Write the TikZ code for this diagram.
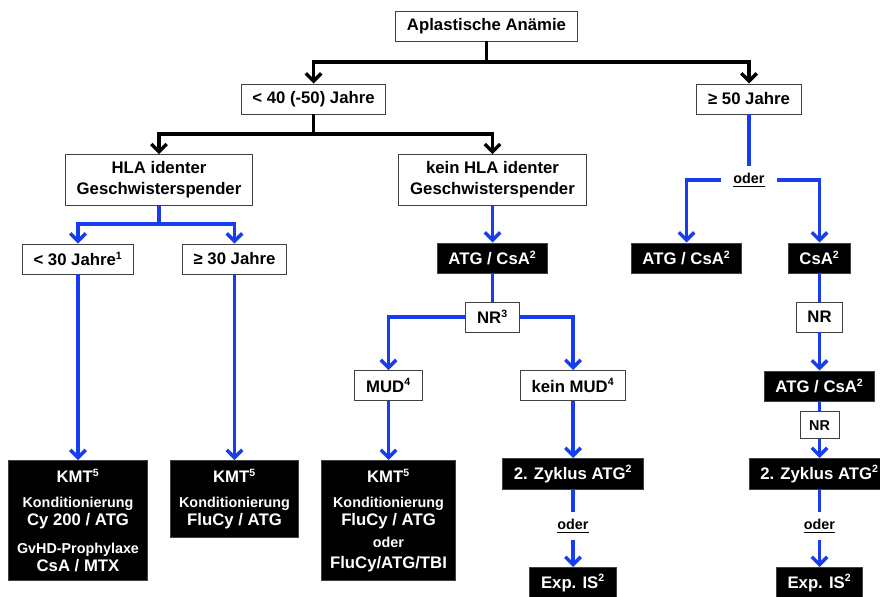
\documentclass[tikz,border=0pt]{standalone}
\usepackage{fontspec}
\setmainfont{Liberation Sans}
\usetikzlibrary{arrows.meta}
\definecolor{flowblue}{RGB}{22,62,240}

\tikzstyle{wbox} = [draw=black!75, line width=0.7pt, fill=white, align=center, font=\bfseries\fontsize{11.9}{14.9}\selectfont, minimum height=0.75cm, inner xsep=8pt, inner ysep=5pt]
\tikzstyle{bbox} = [wbox, fill=black, text=white]
\tikzstyle{kmt} = [bbox, anchor=north, font=\bfseries\fontsize{11.9}{13}\selectfont, inner ysep=6pt, inner xsep=6pt]
\tikzstyle{odertext} = [font=\bfseries\fontsize{10.2}{12}\selectfont, inner xsep=8.5pt, inner ysep=5pt]
\tikzstyle{kline} = [line width=2.4pt]
\tikzstyle{karrow} = [kline, ->]
\tikzstyle{bline} = [kline, flowblue]
\tikzstyle{barrow} = [karrow, flowblue]

\newcommand{\kmtsmall}[1]{{\fontsize{10.2}{13}\selectfont #1}}
\newcommand{\fnote}[1]{\textsuperscript{\fontsize{7.5}{8}\selectfont #1}}

\begin{document}
\begin{tikzpicture}[x=0.025cm, y=-0.025cm, >={Straight Barb[length=5.5pt,width=11pt]}]
\useasboundingbox (0,0) rectangle (880,597);

% --- diagnosis and age ---
\node[wbox] (ana) at (486.5,26) {Aplastische Anämie};
\node[wbox] (lt40) at (313.5,99) {< 40 (-50) Jahre};
\node[wbox] (ge50) at (749,99) {≥ 50 Jahre};

\coordinate (s0) at (486.5,62);
\draw[kline] (ana.south) -- (s0);
\draw[kline, <->] (lt40.north) |- (s0) -| (ge50.north);

% --- donor ---
\node[wbox] (hla) at (159,180) {HLA identer\\Geschwisterspender};
\node[wbox] (khla) at (492.5,180) {kein HLA identer\\Geschwisterspender};

\coordinate (s1) at (313.5,134);
\draw[kline] (lt40.south) -- (s1);
\draw[kline, <->] (hla.north) |- (s1) -| (khla.north);

% --- HLA identical sibling ---
\node[wbox] (lt30) at (78,259) {< 30 Jahre\fnote{1}};
\node[wbox] (ge30) at (234.5,259) {≥ 30 Jahre};

\coordinate (s2) at (159,224);
\draw[bline] (hla.south) -- (s2);
\draw[bline, <->] (lt30.north) |- (s2) -| (ge30.north);

\node[kmt] (kmt1) at (78,460) {KMT\fnote{5}\\[5pt]\kmtsmall{Konditionierung}\\Cy 200 / ATG\\[6.5pt]\kmtsmall{GvHD-Prophylaxe}\\CsA / MTX};
\node[kmt] (kmt2) at (234.5,460) {KMT\fnote{5}\\[5pt]\kmtsmall{Konditionierung}\\FluCy / ATG};

\draw[barrow] (lt30.south) -- (kmt1.north);
\draw[barrow] (ge30.south) -- (kmt2.north);

% --- no HLA identical sibling ---
\node[bbox] (atg1) at (492.5,258) {ATG / CsA\fnote{2}};
\node[wbox] (nr1) at (492.5,317) {NR\fnote{3}};
\node[wbox] (mud) at (388.5,385.5) {MUD\fnote{4}};
\node[wbox] (nomud) at (573,385.5) {kein MUD\fnote{4}};
\node[kmt] (kmt3) at (388.5,460) {KMT\fnote{5}\\[5pt]\kmtsmall{Konditionierung}\\FluCy / ATG\\[2.5pt]\kmtsmall{oder}\\[1.5pt]FluCy/ATG/TBI};
\node[bbox] (zyk1) at (573,474) {2. Zyklus ATG\fnote{2}};
\node[odertext] (oder1) at (573,526) {\underline{oder}};
\node[bbox] (exp1) at (573,583) {Exp. IS\fnote{2}};

\draw[barrow] (khla.south) -- (atg1.north);
\draw[bline] (atg1.south) -- (nr1.north);
\draw[barrow] (nr1.west) -| (mud.north);
\draw[barrow] (nr1.east) -| (nomud.north);
\draw[barrow] (mud.south) -- (kmt3.north);
\draw[barrow] (nomud.south) -- (zyk1.north);
\draw[bline] (zyk1.south) -- (oder1.north);
\draw[barrow] (oder1.south) -- (exp1.north);

% --- 50 years and older ---
\node[odertext] (oder0) at (749,180) {\underline{oder}};
\node[bbox] (atg2) at (686.5,258) {ATG / CsA\fnote{2}};
\node[bbox] (csa) at (819.5,258) {CsA\fnote{2}};
\node[wbox] (nr2) at (819.5,317) {NR};
\node[bbox] (atg3) at (819.5,386) {ATG / CsA\fnote{2}};
\node[wbox, font=\bfseries\fontsize{10.2}{12}\selectfont, minimum height=0.68cm, inner xsep=6.5pt] (nr3) at (819.5,425.3) {NR};
\node[bbox] (zyk2) at (819.5,474) {2. Zyklus ATG\fnote{2}};
\node[odertext] (oder2) at (819.5,526) {\underline{oder}};
\node[bbox] (exp2) at (819.5,583) {Exp. IS\fnote{2}};

\draw[bline] (ge50.south) -- (oder0.north);
\draw[barrow] (oder0.west) -| (atg2.north);
\draw[barrow] (oder0.east) -| (csa.north);
\draw[bline] (csa.south) -- (nr2.north);
\draw[barrow] (nr2.south) -- (atg3.north);
\draw[bline] (atg3.south) -- (nr3.north);
\draw[barrow] (nr3.south) -- (zyk2.north);
\draw[bline] (zyk2.south) -- (oder2.north);
\draw[barrow] (oder2.south) -- (exp2.north);

\end{tikzpicture}
\end{document}
